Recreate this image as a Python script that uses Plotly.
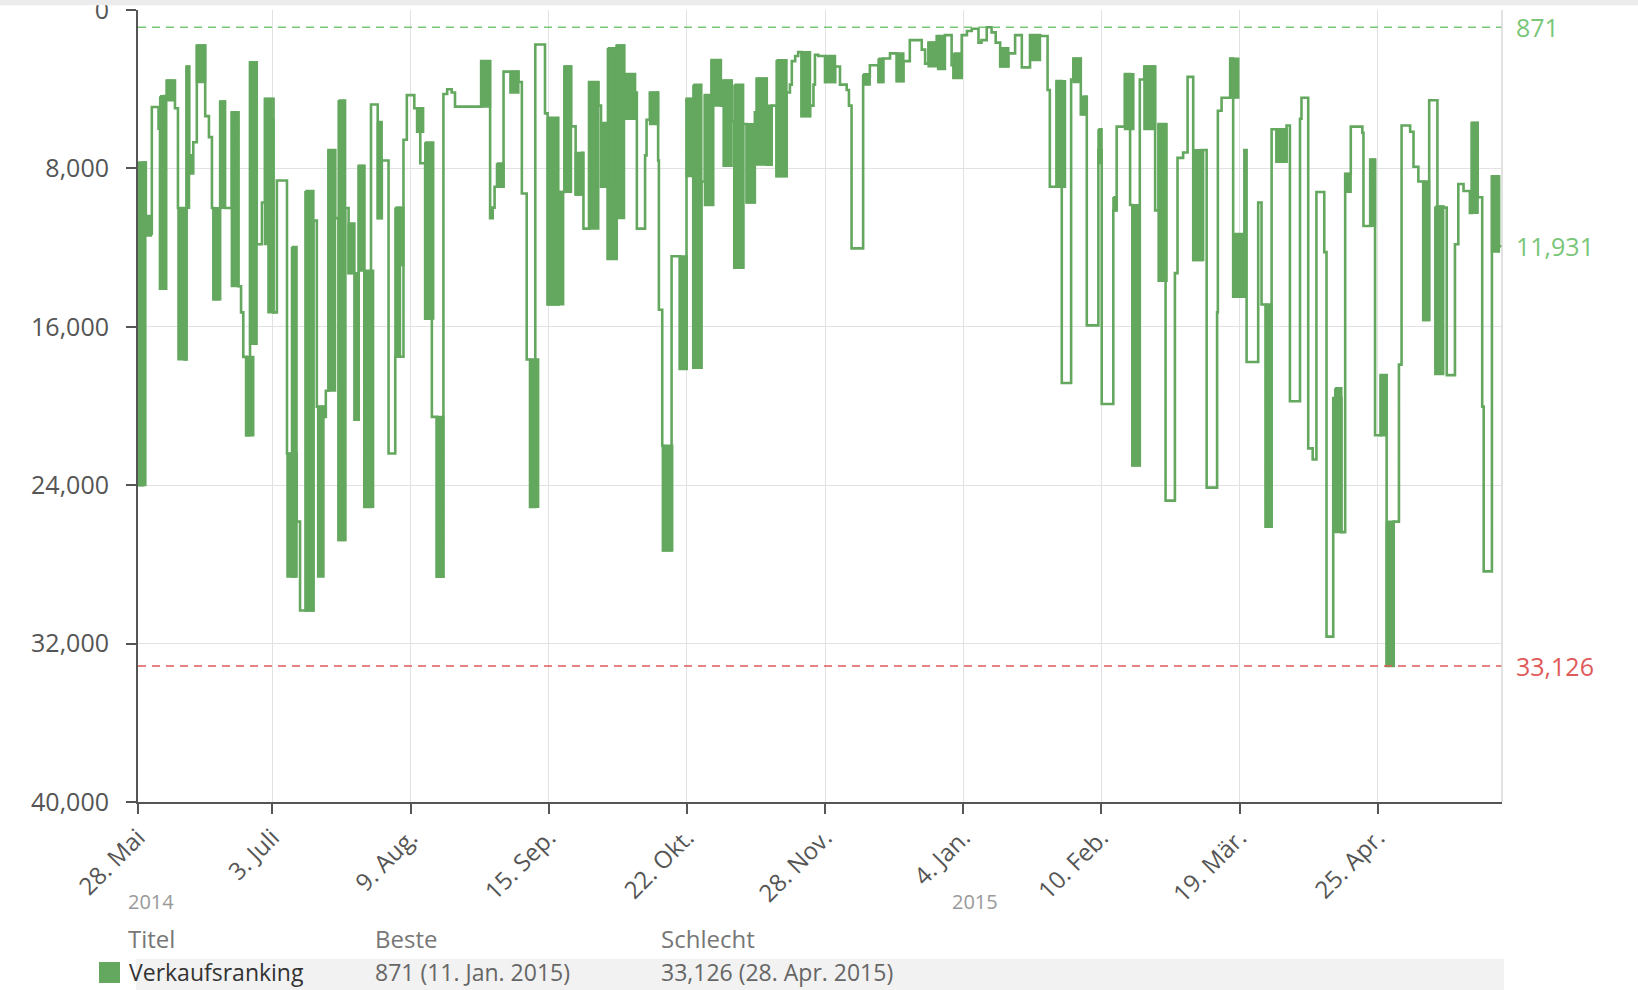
import pandas as pd
import plotly.graph_objects as go

START = pd.Timestamp("2014-05-28")
END_DAY = 365.3

# Sales rank step series: (day offset from 28 May 2014, rank)
line_days = [0, 0.4, 1.2, 2.1, 3.7, 5.5, 5.9, 7.0, 7.7, 9.9, 10.7, 12.5, 13.0, 13.7, 14.2, 14.8,
             15.75, 18.0, 19.0, 19.8, 20.2, 22.0, 23.3, 25.1, 26.9, 27.6, 28.2, 29.0, 30.0, 31.8,
             33.2, 34.0, 36.3, 37.2, 39.9, 42.5, 43.4, 47.0, 47.9, 49.7, 50.3, 51.0, 52.8, 53.7,
             55.5, 56.4, 58.0, 59.1, 60.6, 62.4, 64.2, 65.3, 67.1, 68.9, 71.1, 72.0, 74.0, 75.6,
             76.9, 78.7, 80.0, 81.8, 82.8, 84.0, 84.9, 91.9, 94.3, 95.0, 95.5, 97.9, 101.9, 102.8,
             104.1, 105.0, 106.4, 109.0, 109.7, 112.6, 114.2, 116.0, 117.2, 118.9, 119.3, 120.8,
             123.3, 124.0, 125.8, 128.2, 130.2, 133.1, 133.6, 135.8, 136.2, 137.1, 139.3, 139.5,
             140.4, 140.6, 142.9, 145.1, 146.9, 148.7, 150.9, 151.8, 153.6, 156.1, 156.8, 159.0,
             159.7, 162.1, 163.0, 165.2, 165.7, 168.4, 169.7, 171.0, 173.7, 174.6, 175.1, 176.0,
             176.8, 177.7, 180.0, 180.9, 181.3, 182.2, 184.0, 186.7, 188.0, 189.8, 190.4, 191.1,
             194.2, 196.0, 198.3, 199.6, 201.4, 203.2, 205.0, 206.7, 209.9, 210.8, 211.7, 213.9,
             214.3, 216.1, 217.9, 218.4, 220.6, 222.0, 223.3, 225.1, 225.9, 227.3, 228.6, 229.7,
             230.9, 233.1, 234.9, 236.7, 238.9, 241.6, 243.6, 244.2, 246.0, 247.4, 249.9, 250.5,
             252.5, 253.2, 254.1, 257.2, 258.1, 261.2, 262.1, 264.3, 265.7, 266.3, 268.3, 269.5,
             272.4, 273.3, 275.2, 277.7, 278.4, 279.9, 281.1, 282.6, 284.9, 286.2, 289.0, 289.2,
             290.2, 292.5, 293.3, 296.3, 296.9, 300.0, 300.9, 302.0, 303.6, 304.9, 307.6, 308.5,
             311.2, 311.6, 313.4, 314.6, 315.6, 317.7, 318.3, 320.1, 322.3, 323.3, 324.8, 327.9,
             328.2, 330.0, 331.3, 332.8, 334.4, 336.3, 337.7, 338.4, 340.7, 341.6, 342.9, 344.2,
             345.8, 348.0, 349.6, 350.5, 352.7, 353.6, 355.0, 356.7, 357.2, 358.8, 360.0, 360.4,
             362.6, 364.5, 365.3]
line_ranks = [20000, 24000, 7700, 11300, 4900, 6000, 14080, 4350, 3560, 4960, 10000, 17650, 2850, 7340, 8260, 6680,
              1790, 5360, 6420, 10000, 14610, 4620, 10000, 5170, 13950, 15270, 17520, 21480, 2640, 11830,
              9720, 4490, 15270, 8610, 22400, 25840, 30330, 10640, 20030, 20550, 19230, 7070, 10510, 26770,
              10000, 13290, 20690, 7870, 25100, 4770, 10510, 7600, 22400, 17510, 6550, 4300, 4960, 7740,
              15590, 20550, 28620, 4240, 4000, 4170, 4880, 2580, 10510, 9980, 8930, 3110, 3640, 9270,
              17650, 25100, 1740, 5220, 14870, 9190, 2850, 5880, 9320, 7210, 11040, 3640,
              4830, 8930, 12570, 1790, 3240, 4170, 11040, 7340, 5540, 4170, 7600, 15140,
              22000, 27290, 12440, 18130, 4490, 18070, 8660, 4300, 2530, 4830, 3560, 5620,
              13020, 5760, 9720, 5170, 3460, 7810, 4830, 8390, 4170, 3770, 2580, 2320,
              2130, 5360, 4830, 3770, 2260, 2320, 3640, 2850, 3770, 4040, 4830, 12040,
              3380, 2790, 3640, 2450, 2190, 3590, 2580, 1520, 2000, 2710, 1650, 1310,
              2980, 1270, 2790, 3430, 1270, 1060, 950, 1650, 1520, 871, 1130, 1650,
              2850, 2190, 1270, 2900, 1270, 1310, 4040, 8930, 3590, 18840, 3510, 2450,
              5280, 4380, 15930, 7070, 19900, 10120, 5890, 3240, 9850, 23000, 3510, 2850,
              10120, 5760, 24780, 13290, 7470, 7200, 3380, 12630, 7070, 24120, 15270, 5090,
              4430, 2450, 14480, 7070, 17780, 9720, 14870, 26100, 6020, 7660, 5830, 19760,
              5490, 4430, 22140, 22700, 9190, 12230, 31650, 19600, 26370, 8270, 5890, 6200,
              10910, 7550, 21480, 18440, 33126, 25840, 17910, 5830, 6150, 7920, 8660, 15660,
              4560, 9930, 9980, 18440, 11830, 8790, 9140, 10250, 5700, 9460, 20030, 28350,
              8400, 11931, 11931]

# Intraday range where the rank swung back and forth: (start day, end day, low rank, high rank)
band_start = [0, 2.1, 5.9, 7.7, 10.8, 13.0, 15.75, 20.2, 22.0, 25.1, 28.9, 30.0, 34.0, 34.9, 40.0,
              41.2, 44.8, 48.2, 51.0, 53.7, 56.4, 58.0, 59.1, 60.6, 64.2, 68.9, 69.3, 74.7, 76.9,
              80.0, 91.9, 96.1, 99.7, 105.0, 109.7, 112.6, 114.2, 117.2, 120.8, 124.0, 125.8,
              128.2, 130.2, 137.1, 140.6, 145.1, 146.9, 148.7, 151.8, 153.6, 156.8, 159.7, 163.0,
              165.7, 168.4, 171.0, 177.7, 184.0, 194.2, 198.3, 203.2, 211.7, 214.3, 218.4, 230.9,
              238.9, 246.0, 250.5, 253.2, 257.2, 261.2, 264.3, 266.3, 269.5, 273.3, 282.6, 292.5,
              293.3, 302.0, 304.9, 320.6, 323.3, 330.0, 332.8, 334.4, 344.2, 347.4, 357.2, 362.6]
band_end = [2.0, 3.5, 7.6, 9.6, 13.0, 13.7, 18.0, 21.7, 23.3, 26.9, 30.9, 31.8, 35.8, 36.3, 42.1,
            42.5, 47.0, 49.7, 52.8, 55.5, 58.0, 59.1, 60.6, 63.0, 65.3, 70.2, 71.1, 76.4, 79.1,
            81.8, 94.3, 97.9, 101.9, 107.2, 112.6, 113.9, 116.0, 118.9, 123.3, 125.8, 128.2,
            130.2, 133.1, 139.3, 143.1, 147.0, 149.2, 150.9, 154.1, 156.1, 159.0, 162.1, 165.2,
            168.4, 169.7, 173.7, 180.0, 186.7, 196.0, 199.6, 205.0, 213.9, 216.1, 220.6, 233.1,
            241.6, 248.3, 252.5, 254.1, 258.1, 262.1, 266.6, 268.3, 272.4, 275.5, 285.3, 294.7,
            296.3, 303.6, 307.6, 322.3, 324.8, 331.3, 334.4, 336.3, 345.8, 349.6, 358.8, 364.5]
band_low = [7700, 10400, 4350, 3560, 10000, 2850, 1790, 10000, 4620, 5170, 17520, 2640, 4490, 5540, 22400,
            11960, 9140, 20030, 7070, 4560, 10780, 13290, 7870, 13160, 5650, 9980, 9980, 4960, 6680,
            20550, 2580, 7740, 3110, 17650, 5430, 9190, 2850, 7210, 3640, 5700, 1920,
            1790, 3240, 4170, 22000, 12440, 4490, 3770, 4300, 2530, 3560, 3770, 5760,
            3460, 4830, 2530, 2130, 2320, 3240, 2450, 2190, 1650, 1310, 2190, 1930,
            1270, 3590, 2450, 4380, 6020, 9450, 3240, 9850, 2850, 5760, 7070, 2450,
            11300, 14870, 6020, 19100, 8270, 7550, 18440, 25840, 8660, 9930, 5700, 8400]
band_high = [24000, 11400, 14080, 4560, 17650, 10000, 3640, 14610, 10000, 13950, 21480, 16860, 11830, 15270, 28620,
             28620, 30330, 28620, 19230, 26770, 13290, 20690, 13160, 25100, 10510, 17510, 12890, 6160, 15590,
             28620, 4880, 8930, 4170, 25100, 14870, 14870, 9190, 9320, 11040, 8930, 12570,
             10510, 5500, 5760, 27290, 18130, 8390, 18070, 9850, 4830, 7870, 13020, 9720,
             7810, 7810, 8390, 5360, 3640, 3770, 3640, 3590, 2850, 2980, 3430, 2850,
             2530, 8930, 3640, 5280, 7730, 10120, 6020, 23000, 6020, 13680, 12630, 4430,
             14480, 26100, 7660, 26370, 9190, 10910, 21480, 33126, 15660, 18390, 10250, 12200]

BEST_RANK = 871
BEST_DATE_TXT = "11. Jan. 2015"
WORST_RANK = 33126
WORST_DATE_TXT = "28. Apr. 2015"
LAST_RANK = 11931
SERIES_NAME = "Verkaufsranking"

tick_dates = ["2014-05-28", "2014-07-03", "2014-08-09", "2014-09-15", "2014-10-22",
              "2014-11-28", "2015-01-04", "2015-02-10", "2015-03-19", "2015-04-25"]
tick_labels = ["28. Mai", "3. Juli", "9. Aug.", "15. Sep.", "22. Okt.",
               "28. Nov.", "4. Jan.", "10. Feb.", "19. Mär.", "25. Apr."]
y_ticks = [0, 8000, 16000, 24000, 32000, 40000]

LINE_GREEN = "#63a85e"
LIGHT_GREEN = "#79c679"
RED = "#e05a5a"
FONT = "Open Sans"
TICK_GREY = "#555"


def to_date(d):
    return START + pd.Timedelta(days=d)


fig = go.Figure()

# intraday swing bands
bx, by = [], []
for s, e, lo, hi in zip(band_start, band_end, band_low, band_high):
    bx += [to_date(s), to_date(e), to_date(e), to_date(s), to_date(s), None]
    by += [lo, lo, hi, hi, lo, None]
fig.add_trace(go.Scatter(x=bx, y=by, mode="lines", fill="toself", fillcolor=LINE_GREEN,
                         line=dict(color=LINE_GREEN, width=2.2), hoverinfo="skip", showlegend=False))

# main step line
fig.add_trace(go.Scatter(x=[to_date(d) for d in line_days], y=line_ranks, mode="lines",
                         line=dict(color=LINE_GREEN, width=2.6, shape="hv"),
                         name=SERIES_NAME, showlegend=False))

# best / worst reference lines
x_span = [to_date(0), to_date(END_DAY)]
fig.add_trace(go.Scatter(x=x_span, y=[BEST_RANK, BEST_RANK], mode="lines",
                         line=dict(color=LIGHT_GREEN, width=1.5, dash="8px,6px"),
                         hoverinfo="skip", showlegend=False))
fig.add_trace(go.Scatter(x=x_span, y=[WORST_RANK, WORST_RANK], mode="lines",
                         line=dict(color=RED, width=1.5, dash="8px,6px"),
                         hoverinfo="skip", showlegend=False))

RIGHT_X = 1.009
ROW_Y = -0.2145
annotations = [
    dict(x=RIGHT_X, y=BEST_RANK, xref="paper", yref="y", text=f"{BEST_RANK:,}", showarrow=False,
         xanchor="left", yanchor="middle", font=dict(family=FONT, size=25, color=LIGHT_GREEN)),
    dict(x=RIGHT_X, y=LAST_RANK, xref="paper", yref="y", text=f"{LAST_RANK:,}", showarrow=False,
         xanchor="left", yanchor="middle", font=dict(family=FONT, size=25, color=LIGHT_GREEN)),
    dict(x=RIGHT_X, y=WORST_RANK, xref="paper", yref="y", text=f"{WORST_RANK:,}", showarrow=False,
         xanchor="left", yanchor="middle", font=dict(family=FONT, size=25, color=RED)),
    dict(x=0.0095, y=-0.126, xref="paper", yref="paper", text="2014", showarrow=False,
         xanchor="center", yanchor="middle", font=dict(family=FONT, size=20, color="#999")),
    dict(x=0.614, y=-0.126, xref="paper", yref="paper", text="2015", showarrow=False,
         xanchor="center", yanchor="middle", font=dict(family=FONT, size=20, color="#999")),
    dict(x=-0.009, y=-0.172, xref="paper", yref="paper", text="Titel", showarrow=False,
         xanchor="left", yanchor="middle", font=dict(family=FONT, size=24, color="#777")),
    dict(x=0.1723, y=-0.172, xref="paper", yref="paper", text="Beste", showarrow=False,
         xanchor="left", yanchor="middle", font=dict(family=FONT, size=24, color="#777")),
    dict(x=0.382, y=-0.172, xref="paper", yref="paper", text="Schlecht", showarrow=False,
         xanchor="left", yanchor="middle", font=dict(family=FONT, size=24, color="#777")),
    dict(x=-0.008, y=ROW_Y, xref="paper", yref="paper", text=SERIES_NAME, showarrow=False,
         xanchor="left", yanchor="middle", font=dict(family=FONT, size=23, color="#333")),
    dict(x=0.1723, y=ROW_Y, xref="paper", yref="paper",
         text=f"{BEST_RANK:,} ({BEST_DATE_TXT})", showarrow=False,
         xanchor="left", yanchor="middle", font=dict(family=FONT, size=23, color="#666")),
    dict(x=0.382, y=ROW_Y, xref="paper", yref="paper",
         text=f"{WORST_RANK:,} ({WORST_DATE_TXT})", showarrow=False,
         xanchor="left", yanchor="middle", font=dict(family=FONT, size=23, color="#666")),
]

shapes = [
    # table row background
    dict(type="rect", xref="paper", yref="paper", x0=-0.0015, x1=1.0015, y0=-0.2374, y1=-0.198,
         fillcolor="#f2f2f2", line=dict(width=0), layer="below"),
    # legend colour swatch
    dict(type="rect", xref="paper", yref="paper", x0=-0.0286, x1=-0.0132, y0=-0.2285, y1=-0.202,
         fillcolor=LINE_GREEN, line=dict(width=0)),
    # right plot border
    dict(type="line", xref="paper", yref="paper", x0=1, x1=1, y0=0, y1=1,
         line=dict(color="#d8d8d8", width=1.5)),
    # top strip of the page
    dict(type="rect", xref="paper", yref="paper", x0=-0.11, x1=1.11, y0=1.006, y1=1.02,
         fillcolor="#ececec", line=dict(width=0)),
]

fig.update_layout(
    width=1638, height=990,
    margin=dict(l=138, r=136, t=10, b=188, autoexpand=False),
    paper_bgcolor="white", plot_bgcolor="white",
    font=dict(family=FONT, color=TICK_GREY),
    showlegend=False,
    annotations=annotations,
    shapes=shapes,
    xaxis=dict(
        range=[to_date(0), to_date(END_DAY)], automargin=False,
        tickmode="array", tickvals=tick_dates, ticktext=tick_labels,
        tickangle=-45, tickfont=dict(family=FONT, size=24, color=TICK_GREY),
        showgrid=True, gridcolor="#e2e2e2", gridwidth=1,
        showline=True, linecolor="#555", linewidth=2,
        ticks="outside", ticklen=10, tickcolor="#555", tickwidth=2,
        zeroline=False,
    ),
    yaxis=dict(
        range=[40000, 0], automargin=False,
        tickmode="array", tickvals=y_ticks, tickformat=",",
        tickfont=dict(family=FONT, size=25, color=TICK_GREY),
        ticklabelstandoff=12, ticklabeloverflow="allow",
        showgrid=True, gridcolor="#e2e2e2", gridwidth=1,
        showline=True, linecolor="#555", linewidth=2,
        ticks="outside", ticklen=10, tickcolor="#555", tickwidth=2,
        zeroline=False,
    ),
)

fig.write_html("out.html", config={"displayModeBar": False},
               post_script="document.body.style.margin='0';")
